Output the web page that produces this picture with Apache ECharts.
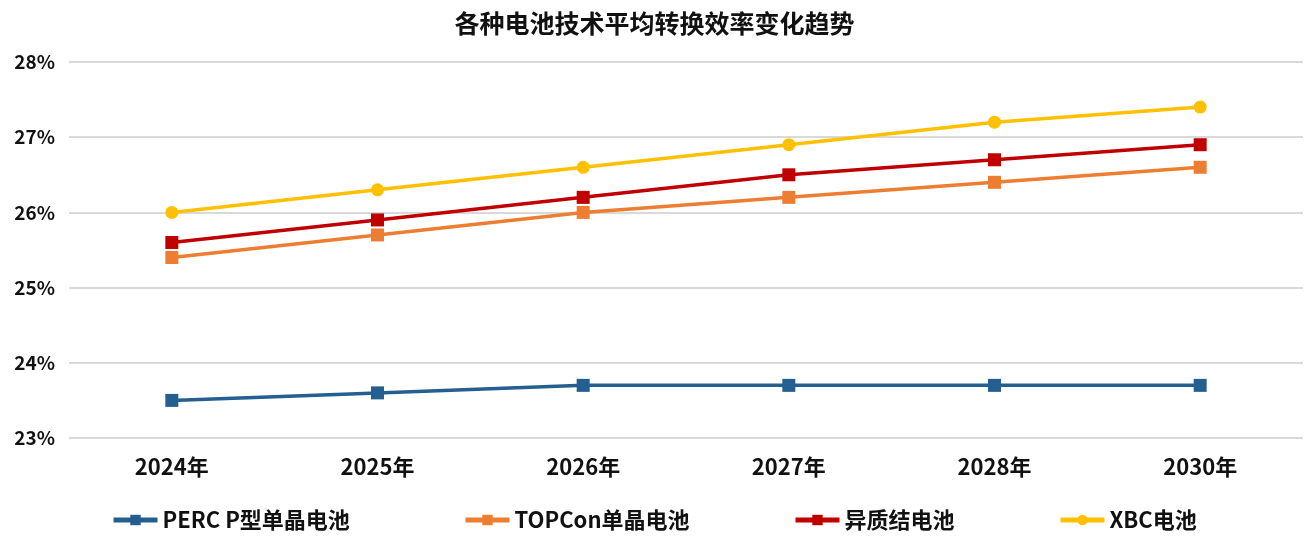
<!DOCTYPE html>
<html>
<head>
<meta charset="utf-8">
<script src="https://cdn.jsdelivr.net/npm/echarts@6/dist/echarts.min.js"></script>
<style>
html,body{margin:0;padding:0;background:#fff;}
#main{width:1309px;height:538px;}
</style>
</head>
<body>
<div id="main"></div>
<script>
var years = ['2024年', '2025年', '2026年', '2027年', '2028年', '2030年'];
var perc = [23.5, 23.6, 23.7, 23.7, 23.7, 23.7];
var topcon = [25.4, 25.7, 26.0, 26.2, 26.4, 26.6];
var hjt = [25.6, 25.9, 26.2, 26.5, 26.7, 26.9];
var xbc = [26.0, 26.3, 26.6, 26.9, 27.2, 27.4];
var names = ['PERC P型单晶电池', 'TOPCon单晶电池', '异质结电池', 'XBC电池'];
var colors = ['#255E91', '#ED7D31', '#C00000', '#FFC000'];
var symbols = ['rect', 'rect', 'rect', 'circle'];
var legendLeft = [106, 458, 788, 1053];
var font = '"Noto Sans CJK SC", "DejaVu Sans", sans-serif';

var myChart = echarts.init(document.getElementById('main'));
var allData = [perc, topcon, hjt, xbc];
var seriesList = [];
var legendList = [];
for (var i = 0; i < allData.length; i++) {
  seriesList.push({
    name: names[i],
    type: 'line',
    data: allData[i],
    symbol: symbols[i],
    symbolSize: 13,
    lineStyle: {width: 3.5, color: colors[i]},
    itemStyle: {color: colors[i]},
    animation: false
  });
  // 每个图例单独放，位置对齐原图
  legendList.push({
    data: [names[i]],
    bottom: 2,
    left: legendLeft[i],
    itemWidth: 44,
    itemHeight: 13,
    itemGap: 8,
    selectedMode: false,
    lineStyle: {width: 5},
    textStyle: {fontFamily: font, fontSize: 22, fontWeight: 'bold', color: '#111'}
  });
}

var option = {
  backgroundColor: '#fff',
  color: colors,
  title: {
    text: '各种电池技术平均转换效率变化趋势',
    left: 'center',
    top: 6,
    textStyle: {fontFamily: font, fontSize: 25, fontWeight: 'bold', color: '#111'}
  },
  legend: legendList,
  grid: {left: 69, right: 6, top: 62, bottom: 100},
  xAxis: {
    type: 'category',
    data: years,
    axisLine: {show: false},
    axisTick: {show: false},
    axisLabel: {fontFamily: font, fontSize: 22, fontWeight: 'bold', color: '#111', margin: 18}
  },
  yAxis: {
    type: 'value',
    min: 23,
    max: 28,
    interval: 1,
    axisLabel: {
      formatter: '{value}%',
      fontFamily: font, fontSize: 19, fontWeight: 'bold', color: '#111', margin: 14
    },
    splitLine: {lineStyle: {color: '#D9D9D9', width: 2}}
  },
  series: seriesList
};
myChart.setOption(option);
</script>
</body>
</html>
